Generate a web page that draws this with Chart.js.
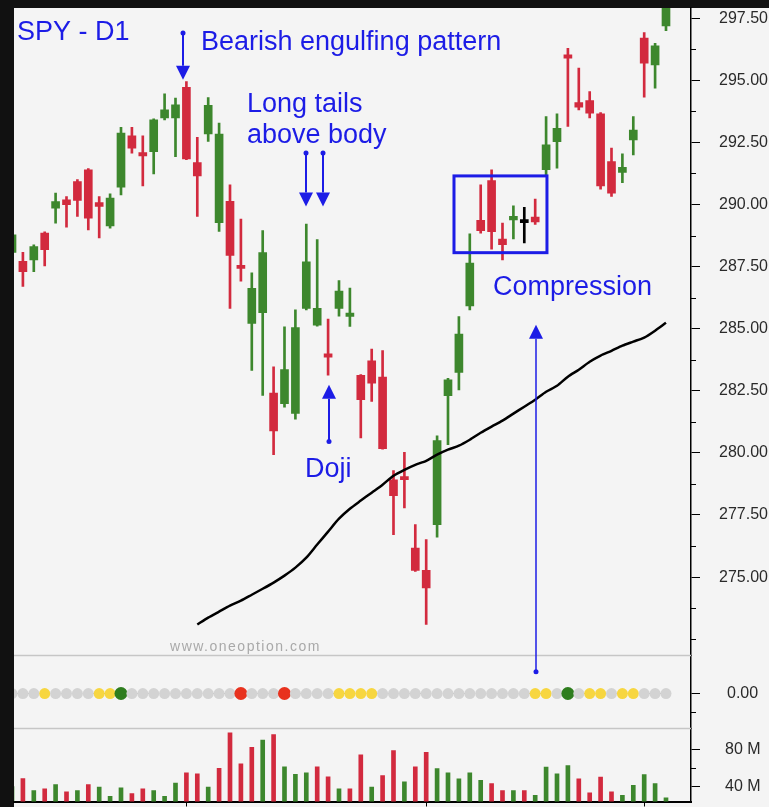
<!DOCTYPE html>
<html>
<head>
<meta charset="utf-8">
<title>SPY - D1</title>
<script src="https://cdn.jsdelivr.net/npm/chart.js@4.4.1/dist/chart.umd.min.js"></script>
<style>
  html, body { margin: 0; padding: 0; background: #111; }
  #wrap { width: 769px; height: 807px; }
</style>
</head>
<body>
<div id="wrap"><canvas id="chart" width="769" height="807"></canvas></div>
<script>
// daily candles, one entry per bar (index 0 is cut by the left edge)
var opens = [288.07, 287.71, 287.77, 288.85, 289.85, 290.19, 290.92, 291.40, 290.08, 289.14,
  290.70, 292.76, 292.09, 292.13, 293.48, 293.48, 294.72, 291.69, 292.84, 289.27,
  290.13, 287.54, 285.21, 285.64, 282.41, 281.98, 281.59, 285.82, 285.14, 283.99,
  285.82, 285.49, 283.12, 283.71, 283.05, 278.92, 279.05, 276.17, 275.27, 277.11,
  282.30, 283.24, 285.92, 289.36, 290.96, 288.61, 289.38, 289.27, 289.49, 291.40,
  292.53, 296.02, 294.10, 294.18, 293.65, 291.73, 291.29, 292.60, 296.70, 295.62, 297.19];
var highs = [289.00, 288.07, 288.38, 288.90, 290.46, 290.32, 291.00, 291.45, 290.32, 290.43,
  293.11, 293.11, 292.76, 293.45, 294.45, 294.28, 294.95, 292.70, 294.30, 293.28,
  290.79, 289.41, 287.25, 288.95, 283.46, 285.07, 285.76, 289.21, 288.59, 285.39,
  286.94, 286.63, 283.15, 284.18, 284.12, 279.29, 280.02, 277.11, 276.51, 280.69,
  283.00, 285.49, 288.82, 290.79, 291.40, 289.25, 289.95, 289.89, 290.22, 293.54,
  293.65, 296.29, 295.49, 294.55, 293.70, 292.27, 292.04, 293.54, 296.92, 296.49, 298.30];
var lows = [287.90, 286.70, 287.30, 287.53, 289.25, 289.09, 289.52, 288.98, 288.65, 289.05,
  290.39, 292.07, 290.75, 291.23, 293.40, 291.93, 291.80, 289.52, 292.54, 288.92,
  285.82, 286.91, 283.32, 282.31, 279.93, 281.84, 281.36, 285.76, 285.10, 283.13,
  285.50, 285.09, 280.60, 282.07, 280.15, 276.71, 277.78, 275.23, 273.09, 276.61,
  280.33, 282.54, 285.76, 288.85, 288.20, 287.77, 288.61, 288.45, 289.20, 291.19,
  291.46, 293.14, 293.81, 293.48, 290.62, 290.32, 290.88, 292.00, 294.32, 294.68, 297.00];
var closes = [288.78, 287.30, 288.31, 288.18, 290.12, 289.99, 290.16, 289.45, 289.92, 290.26,
  292.87, 292.27, 291.96, 293.41, 293.81, 294.01, 291.83, 291.15, 293.99, 292.83,
  287.95, 287.43, 286.62, 288.06, 280.88, 283.35, 285.04, 287.69, 285.82, 283.85,
  286.51, 285.63, 282.14, 282.81, 280.17, 278.28, 278.92, 275.27, 274.56, 280.50,
  282.94, 284.78, 287.64, 288.95, 288.91, 288.38, 289.52, 289.27, 289.30, 292.40,
  293.07, 295.89, 293.92, 293.68, 290.75, 290.46, 291.50, 293.00, 295.69, 296.39, 297.97];

// volume in millions
var volumes = [40.0, 48.6, 35.7, 37.5, 42.2, 34.3, 35.7, 42.2, 39.3, 29.5,
  38.6, 32.4, 37.5, 35.7, 29.5, 43.6, 54.8, 53.7, 39.3, 59.8,
  98.0, 64.5, 82.5, 90.1, 96.2, 61.3, 53.3, 54.8, 61.3, 50.5,
  37.5, 37.5, 74.3, 39.3, 51.9, 78.9, 45.1, 61.3, 77.1, 59.5,
  54.8, 48.3, 54.8, 46.8, 43.2, 35.7, 35.7, 35.7, 30.6, 60.9,
  53.7, 62.7, 48.3, 33.2, 50.1, 34.3, 30.6, 41.4, 53.0, 43.2, 27.8];

// moving average, starts at bar 17
var movingAvg = [null, null, null, null, null, null, null, null, null, null,
  null, null, null, null, null, null, null, 273.09, 273.37, 273.61,
  273.85, 274.05, 274.29, 274.53, 274.78, 275.06, 275.38, 275.78, 276.31, 276.83,
  277.35, 277.75, 278.08, 278.40, 278.72, 279.08, 279.32, 279.52, 279.68, 279.93,
  280.13, 280.29, 280.53, 280.81, 281.06, 281.30, 281.58, 281.86, 282.14, 282.46,
  282.70, 283.07, 283.35, 283.67, 283.92, 284.11, 284.32, 284.48, 284.64, 284.92, 285.24];

// signal dots: g = neutral, y = yellow, G = green, R = red
var signal = ['g', 'g', 'g', 'y', 'g', 'g', 'g', 'g', 'y', 'y',
  'G', 'g', 'g', 'g', 'g', 'g', 'g', 'g', 'g', 'g',
  'g', 'R', 'g', 'g', 'g', 'R', 'g', 'g', 'g', 'g',
  'y', 'y', 'y', 'y', 'g', 'g', 'g', 'g', 'g', 'g',
  'g', 'g', 'g', 'g', 'g', 'g', 'g', 'g', 'y', 'y',
  'g', 'G', 'g', 'y', 'y', 'g', 'y', 'y', 'g', 'g', 'g'];

var priceTicks = [275, 277.5, 280, 282.5, 285, 287.5, 290, 292.5, 295, 297.5];
var volumeTicks = [40, 80];
var signalTicks = [0];
var monthTicks = [16, 38, 58];

// text and arrows, placed in bar index / price units
var notes = [
  {text: 'SPY - D1', x: 0.46, y: 296.63},
  {text: 'Bearish engulfing pattern', x: 17.34, y: 296.22},
  {text: 'Long tails', x: 21.56, y: 293.73},
  {text: 'above body', x: 21.56, y: 292.48},
  {text: 'Doji', x: 26.88, y: 279.04},
  {text: 'Compression', x: 44.13, y: 286.37},
];
var arrows = [
  {x: 15.66, from: 296.90, to: 295.02},
  {x: 26.94, from: 292.07, to: 289.92},
  {x: 28.56, from: 292.07, to: 289.92},
  {x: 29.08, from: 280.46, to: 282.74},
];

const GREEN = '#3d872d';
const RED = '#d22a3e';
const BLUE = '#1c1ce6';
const FONT = "'Liberation Sans', Arial, sans-serif";
Chart.defaults.font.family = FONT;

const idx = opens.map((o, i) => i);
const candleColors = opens.map((o, i) => closes[i] > o ? GREEN : (closes[i] < o ? RED : '#000'));
const volumeColors = closes.map((c, i) => (i === 0 || c >= closes[i - 1]) ? GREEN : RED);
const dotPalette = {g: '#d3d3d3', y: '#f7d640', G: '#2e7d1e', R: '#e8321e'};
const dotColors = signal.map((s) => dotPalette[s]);
const dotSizes = signal.map((s) => (s === 'G' || s === 'R') ? 6.5 : 5.5);

function drawArrow(c, x, yFrom, yTip) {
  const dir = yTip > yFrom ? 1 : -1;
  const head = 14;
  c.beginPath();
  c.moveTo(x, yFrom);
  c.lineTo(x, yTip - dir * head);
  c.stroke();
  c.beginPath();
  c.moveTo(x - 7, yTip - dir * head);
  c.lineTo(x + 7, yTip - dir * head);
  c.lineTo(x, yTip);
  c.closePath();
  c.fill();
  c.beginPath();
  c.arc(x, yFrom, 2.5, 0, Math.PI * 2);
  c.fill();
}

// stacked panes must fill the plot exactly, no room kept for half labels
function fitRight(s) {
  s.width = 78;
  s.paddingTop = 0;
  s.paddingBottom = 0;
}

const decorations = {
  id: 'decorations',
  beforeDraw(chart) {
    const c = chart.ctx;
    c.save();
    c.fillStyle = '#111';
    c.fillRect(0, 0, chart.width, chart.height);
    c.fillStyle = '#f4f4f4';
    c.fillRect(14, 8, chart.width - 14, chart.height - 8);
    c.restore();
  },
  afterDraw(chart) {
    const c = chart.ctx;
    const area = chart.chartArea;
    const sx = chart.scales.x;
    const sy = chart.scales.y;
    const sInd = chart.scales.yInd;
    const sVol = chart.scales.yVol;
    c.save();

    // pane separators
    c.strokeStyle = '#c6c6c6';
    c.lineWidth = 1.5;
    [sInd.top, sVol.top].forEach((yy) => {
      c.beginPath();
      c.moveTo(area.left, yy);
      c.lineTo(area.right, yy);
      c.stroke();
    });

    // short ticks between the labelled ones
    c.strokeStyle = '#000';
    c.lineWidth = 1;
    const minor = (scale, v) => {
      const yy = Math.round(scale.getPixelForValue(v)) + 0.5;
      c.beginPath();
      c.moveTo(scale.left, yy);
      c.lineTo(scale.left + 5, yy);
      c.stroke();
    };
    for (let k = 0; k <= 20; k++) {
      const v = 272.5 + 1.25 * k;
      if (!priceTicks.includes(v)) minor(sy, v);
    }
    minor(sInd, -0.5);
    minor(sVol, 60);

    // watermark
    c.fillStyle = '#a9a9a9';
    c.font = '14px ' + FONT;
    c.letterSpacing = '1.5px';
    c.textBaseline = 'middle';
    c.fillText('www.oneoption.com', sx.getPixelForValue(14.5), sy.getPixelForValue(272.2));
    c.letterSpacing = '0px';

    // annotations
    c.fillStyle = BLUE;
    c.strokeStyle = BLUE;
    c.font = '27px ' + FONT;
    c.textBaseline = 'alphabetic';
    notes.forEach((n) => c.fillText(n.text, sx.getPixelForValue(n.x), sy.getPixelForValue(n.y)));

    c.lineWidth = 2;
    arrows.forEach((a) => drawArrow(c, Math.round(sx.getPixelForValue(a.x)), sy.getPixelForValue(a.from), sy.getPixelForValue(a.to)));
    c.lineWidth = 1.5;
    drawArrow(c, Math.round(sx.getPixelForValue(48.07)), sInd.getPixelForValue(0.6), sy.getPixelForValue(285.16));

    // compression box
    c.lineWidth = 3;
    const bx0 = sx.getPixelForValue(40.55);
    const bx1 = sx.getPixelForValue(49.08);
    const by0 = sy.getPixelForValue(291.15);
    const by1 = sy.getPixelForValue(288.06);
    c.strokeRect(bx0, by0, bx1 - bx0, by1 - by0);
    c.restore();
  },
};

const axisFont = {size: 16, family: FONT};

new Chart(document.getElementById('chart').getContext('2d'), {
  type: 'bar',
  data: {
    datasets: [{
      type: 'line',
      label: 'MA',
      data: idx.filter((i) => movingAvg[i] !== null).map((i) => ({x: i, y: movingAvg[i]})),
      yAxisID: 'y',
      borderColor: '#000',
      borderWidth: 2.5,
      pointRadius: 0,
      tension: 0.25,
      order: 0,
    }, {
      type: 'line',
      label: 'signal',
      data: idx.map((i) => ({x: i, y: 0})),
      yAxisID: 'yInd',
      borderColor: '#aaaaaa',
      borderWidth: 1,
      borderDash: [2, 2],
      pointRadius: dotSizes,
      pointBackgroundColor: dotColors,
      pointBorderWidth: 0,
      order: 0,
    }, {
      label: 'body',
      data: idx.map((i) => ({x: i, y: [opens[i], closes[i]]})),
      yAxisID: 'y',
      backgroundColor: candleColors,
      barThickness: 8,
      minBarLength: 3,
      grouped: false,
      order: 1,
    }, {
      label: 'wick',
      data: idx.map((i) => ({x: i, y: [lows[i], highs[i]]})),
      yAxisID: 'y',
      backgroundColor: candleColors,
      barThickness: 2,
      grouped: false,
      order: 2,
    }, {
      label: 'volume',
      data: idx.map((i) => ({x: i, y: volumes[i]})),
      yAxisID: 'yVol',
      backgroundColor: volumeColors,
      barThickness: 4,
      grouped: false,
      order: 3,
    }],
  },
  options: {
    responsive: false,
    animation: false,
    events: [],
    layout: {padding: {left: 14, top: 8, right: 0, bottom: 0}},
    plugins: {legend: {display: false}, tooltip: {enabled: false}},
    scales: {
      x: {
        type: 'linear',
        position: 'bottom',
        min: 0.1835,
        max: 62.294,
        offset: false,
        afterBuildTicks: (s) => { s.ticks = monthTicks.map((v) => ({value: v})); },
        afterFit: (s) => {
          s.height = 5;
          s.paddingLeft = 0;
          s.paddingRight = 0;
        },
        ticks: {display: false},
        grid: {offset: false, drawOnChartArea: false, drawTicks: true, tickLength: 5, tickColor: '#000'},
        border: {color: '#000', width: 2},
      },
      y: {
        type: 'linear',
        position: 'right',
        stack: 'panes',
        stackWeight: 648,
        min: 271.84,
        max: 297.91,
        afterBuildTicks: (s) => { s.ticks = priceTicks.map((v) => ({value: v})); },
        afterFit: fitRight,
        ticks: {callback: (v) => v.toFixed(2), color: '#2a2a2a', font: axisFont, padding: 19, crossAlign: 'center'},
        grid: {drawOnChartArea: false, tickLength: 9, tickColor: '#000'},
        border: {color: '#000', width: 1.5},
      },
      yInd: {
        type: 'linear',
        position: 'right',
        stack: 'panes',
        stackWeight: 73,
        min: -0.96,
        max: 1.04,
        afterBuildTicks: (s) => { s.ticks = signalTicks.map((v) => ({value: v})); },
        afterFit: fitRight,
        ticks: {callback: (v) => v.toFixed(2), color: '#2a2a2a', font: axisFont, padding: 27, crossAlign: 'center'},
        grid: {drawOnChartArea: false, tickLength: 9, tickColor: '#000'},
        border: {color: '#000', width: 1.5},
      },
      yVol: {
        type: 'linear',
        position: 'right',
        stack: 'panes',
        stackWeight: 73,
        min: 23.8,
        max: 102.7,
        afterBuildTicks: (s) => { s.ticks = volumeTicks.map((v) => ({value: v})); },
        afterFit: fitRight,
        ticks: {callback: (v) => v + ' M', color: '#2a2a2a', font: axisFont, padding: 25, crossAlign: 'center'},
        grid: {drawOnChartArea: false, tickLength: 9, tickColor: '#000'},
        border: {color: '#000', width: 1.5},
      },
    },
  },
  plugins: [decorations],
});
</script>
</body>
</html>
